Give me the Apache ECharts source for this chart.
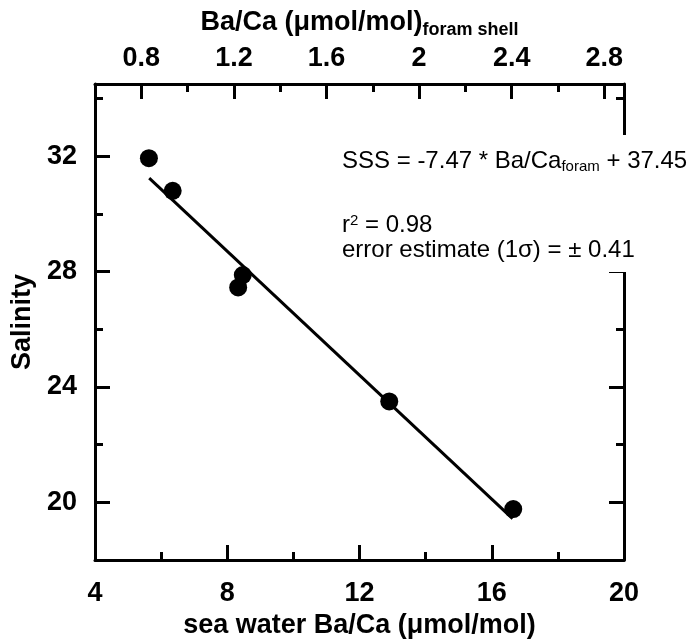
<!DOCTYPE html>
<html>
<head>
<meta charset="utf-8">
<script src="https://cdn.jsdelivr.net/npm/echarts@6/dist/echarts.min.js"></script>
<style>
html,body{margin:0;padding:0;background:#fff;}
#chart{width:693px;height:644px;}
</style>
</head>
<body>
<div id="chart"></div>
<script>
// ---- data ----
const seaWaterBaCa = [5.63, 6.35, 8.33, 8.47, 12.9, 16.65];
const salinity     = [31.93, 30.80, 27.45, 27.88, 23.5, 19.77];
const fitX = [5.64, 16.63];
const fitY = [31.24, 19.44];

const bottomMajor = [4, 8, 12, 16, 20];
const bottomMinor = [6, 10, 14, 18];
const topMajor = [0.8, 1.2, 1.6, 2, 2.4, 2.8];
const topMinor = [1.0, 1.4, 1.8, 2.2, 2.6];
const leftMajor = [20, 24, 28, 32];
const leftMinor = [22, 26, 30, 34];

const FONT = '"Liberation Sans", Arial, sans-serif';
const chart = echarts.init(document.getElementById('chart'));

const lineStyle = {color:'#000', width:3};
const labelStyle = {color:'#000', fontFamily:FONT, fontWeight:'bold', fontSize:27};

function xAx(opts){
  return Object.assign({
    type:'value', splitLine:{show:false}, axisLine:{show:true, onZero:false, lineStyle},
  }, opts);
}

const option = {
  animation:false,
  backgroundColor:'#fff',
  grid:{left:95, right:69, top:84, bottom:81},
  xAxis:[
    xAx({position:'bottom', min:4, max:20,
      axisTick:{show:true, inside:true, length:15, lineStyle, customValues:bottomMajor.slice(1,-1)},
      axisLabel:Object.assign({margin:20, customValues:bottomMajor}, labelStyle),
      name:'sea water Ba/Ca (\u03BCmol/mol)', nameLocation:'middle', nameGap:50,
      nameTextStyle:Object.assign({}, labelStyle)}),
    xAx({position:'bottom', min:4, max:20, axisLine:{show:false},
      axisTick:{show:true, inside:true, length:8, lineStyle, customValues:bottomMinor},
      axisLabel:{show:false}}),
    xAx({position:'top', min:0.6, max:2.885,
      axisTick:{show:true, inside:true, length:15, lineStyle, customValues:topMajor},
      axisLabel:Object.assign({margin:12, customValues:topMajor}, labelStyle),
      name:'Ba/Ca (\u03BCmol/mol){s|foram shell}', nameLocation:'middle', nameGap:45,
      nameTextStyle:Object.assign({rich:{s:{fontFamily:FONT, fontWeight:'bold', fontSize:18, padding:[14,0,0,0], color:'#000'}}}, labelStyle)}),
    xAx({position:'top', min:0.6, max:2.885, axisLine:{show:false},
      axisTick:{show:true, inside:true, length:8, lineStyle, customValues:topMinor},
      axisLabel:{show:false}})
  ],
  yAxis:[
    {type:'value', position:'left', min:18, max:34.5, splitLine:{show:false},
      axisLine:{show:true, onZero:false, lineStyle},
      axisTick:{show:true, inside:true, length:15, lineStyle, customValues:leftMajor},
      axisLabel:Object.assign({margin:18, customValues:leftMajor}, labelStyle),
      name:'Salinity', nameLocation:'middle', nameGap:58, nameTextStyle:Object.assign({}, labelStyle)},
    {type:'value', position:'left', min:18, max:34.5, splitLine:{show:false},
      axisLine:{show:false},
      axisTick:{show:true, inside:true, length:8, lineStyle, customValues:leftMinor},
      axisLabel:{show:false}},
    {type:'value', position:'right', min:18, max:34.5, splitLine:{show:false},
      axisLine:{show:true, onZero:false, lineStyle},
      axisTick:{show:true, inside:true, length:15, lineStyle, customValues:leftMajor},
      axisLabel:{show:false}},
    {type:'value', position:'right', min:18, max:34.5, splitLine:{show:false},
      axisLine:{show:false},
      axisTick:{show:true, inside:true, length:8, lineStyle, customValues:leftMinor},
      axisLabel:{show:false}}
  ],
  series:[
    {type:'line', xAxisIndex:0, yAxisIndex:0, data:fitX.map((x,i)=>[x, fitY[i]]),
      symbol:'none', lineStyle:{color:'#000', width:3}, z:2},
    {type:'scatter', xAxisIndex:0, yAxisIndex:0, data:seaWaterBaCa.map((x,i)=>[x, salinity[i]]),
      symbol:'circle', symbolSize:18, itemStyle:{color:'#000', opacity:1}, z:3}
  ],
  graphic:[
    {type:'rect', z:50, shape:{x:330, y:135, width:363, height:137}, style:{fill:'#fff'}},
    {type:'text', left:342, top:149, z:60, style:{
      text:'SSS = -7.47 * Ba/Ca{s|foram} + 37.45', fill:'#000',
      font:'24px ' + FONT,
      rich:{s:{fontSize:15, fontFamily:FONT, padding:[12,0,0,0], fill:'#000'}}}},
    {type:'text', left:342, top:213, z:60, style:{
      text:'r{p|2} = 0.98', fill:'#000', font:'24px ' + FONT,
      rich:{p:{fontSize:15, fontFamily:FONT, padding:[0,0,10,0], fill:'#000'}}}},
    {type:'text', left:342, top:238, z:60, style:{
      text:'error estimate (1\u03C3) = \u00B1 0.41', fill:'#000', font:'24px ' + FONT}}
  ]
};
chart.setOption(option);
</script>
</body>
</html>
